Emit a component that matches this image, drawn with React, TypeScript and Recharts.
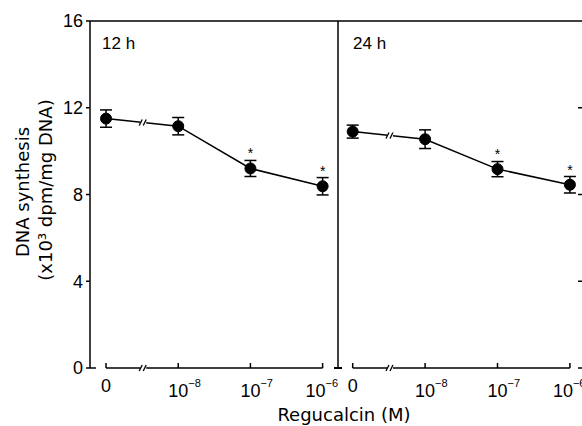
import { LineChart, Line, XAxis, YAxis, ErrorBar, LabelList, ReferenceLine, ReferenceDot } from "recharts";

// regucalcin concentrations (10^exp M), plotted at equal spacing
const doseIndex = [0, 1, 2, 3];
const doseExp = ["", "8", "7", "6"];

// DNA synthesis (x10^3 dpm/mg DNA)
const mean12h = [11.5, 11.15, 9.2, 8.38];
const err12h = [0.4, 0.4, 0.37, 0.4];
const sig12h = [false, false, true, true];

const mean24h = [10.9, 10.55, 9.17, 8.45];
const err24h = [0.3, 0.43, 0.35, 0.38];
const sig24h = [false, false, true, true];

const yTicks = [0, 4, 8, 12, 16];
const edgeTicks = [0, 4, 8, 12];

const leftDomain: [number, number] = [-0.222, 3.213];
const rightDomain: [number, number] = [-0.203, 3.167];
const breakAt = 0.515;

const W = 582;
const H = 426;
const numFont = "'Liberation Sans', Arial, sans-serif";
const textFont = "'DejaVu Sans', sans-serif";

const build = (mean: number[], err: number[], sig: boolean[]) =>
  doseIndex.map((x, i) => ({ x, mean: mean[i], err: err[i], star: sig[i] ? "*" : "" }));

const data12 = build(mean12h, err12h, sig12h);
const data24 = build(mean24h, err24h, sig24h);

function DoseTick({ x, y, payload }: any) {
  const exp = doseExp[payload.value];
  // the last label sits left of its tick so it clears the next panel
  const shift = payload.value === doseIndex[doseIndex.length - 1] ? -7 : 0;
  return (
    <g>
      <line x1={x} x2={x} y1={y - 5} y2={y} stroke="#000" strokeWidth={1.5} />
      {exp ? (
        <g fontFamily={numFont} fill="#000">
          <text x={x + shift} y={y + 29} textAnchor="middle" fontSize={18}>10</text>
          <text x={x + shift + 10} y={y + 19} textAnchor="start" fontSize={11}>{"\u2212" + exp}</text>
        </g>
      ) : (
        <text x={x} y={y + 24} textAnchor="middle" fontSize={18} fontFamily={numFont} fill="#000">0</text>
      )}
    </g>
  );
}

function BreakMark({ cx, cy }: any) {
  return (
    <g>
      <line x1={cx - 3} x2={cx + 3} y1={cy} y2={cy} stroke="#fff" strokeWidth={4} />
      <line x1={cx - 4} y1={cy + 3} x2={cx - 1} y2={cy - 3} stroke="#000" strokeWidth={1.3} />
      <line x1={cx} y1={cy + 3} x2={cx + 3} y2={cy - 3} stroke="#000" strokeWidth={1.3} />
    </g>
  );
}

function BaseMark({ cx, cy }: any) {
  return <line x1={cx - 4} x2={cx + 4} y1={cy} y2={cy} stroke="#000" strokeWidth={2} />;
}

function EdgeTick({ cx, cy }: any) {
  return <line x1={cx - 4} x2={cx} y1={cy} y2={cy} stroke="#000" strokeWidth={1.5} />;
}

const lineBreakY = (mean: number[]) => mean[0] + (mean[1] - mean[0]) * breakAt;

function Panel({ data, mean, domain, margin, label, showY }: any) {
  return (
    <div style={{ position: "absolute", left: 0, top: 0 }}>
      <LineChart width={W} height={H} data={data} margin={margin}>
        <XAxis
          type="number"
          dataKey="x"
          domain={domain}
          ticks={doseIndex}
          axisLine={false}
          tickLine={false}
          tickSize={0}
          tickMargin={0}
          height={30}
          tick={<DoseTick />}
          allowDataOverflow
        />
        <YAxis
          domain={[0, 16]}
          ticks={yTicks}
          width={30}
          axisLine={{ stroke: "#000", strokeWidth: 1.5 }}
          tickLine={showY ? { stroke: "#000", strokeWidth: 1.5 } : false}
          tickSize={4}
          tickMargin={3}
          tick={showY ? { fontSize: 18, fill: "#000", fontFamily: numFont } : false}
          label={
            showY
              ? {
                  content: () => (
                    <g fontFamily={textFont} fontSize={18} fill="#000">
                      <text transform="translate(29,192) rotate(-90)" textAnchor="middle">DNA synthesis</text>
                      <text transform="translate(52,190) rotate(-90)" textAnchor="middle">(x10³ dpm/mg DNA)</text>
                    </g>
                  ),
                }
              : undefined
          }
        />
        <ReferenceLine y={16} stroke="#000" strokeWidth={1.5} />
        <ReferenceLine
          segment={[{ x: 0, y: 0 }, { x: 3, y: 0 }]}
          stroke="#000"
          strokeWidth={1.5}
          ifOverflow="visible"
        />
        {showY && (
          <ReferenceLine
            segment={[{ x: domain[0], y: 0 }, { x: -0.14, y: 0 }]}
            stroke="#000"
            strokeWidth={1.5}
            ifOverflow="visible"
          />
        )}
        {!showY && <ReferenceDot x={domain[0]} y={0} ifOverflow="visible" shape={<BaseMark />} />}
        {!showY &&
          edgeTicks.map((t) => (
            <ReferenceDot key={t} x={domain[1]} y={t} ifOverflow="visible" shape={<EdgeTick />} />
          ))}
        <Line
          dataKey="mean"
          stroke="#000"
          strokeWidth={1.5}
          dot={{ r: 5.5, fill: "#000", stroke: "#000", strokeWidth: 1 }}
          isAnimationActive={false}
        >
          <ErrorBar dataKey="err" width={6} stroke="#000" strokeWidth={1.5} direction="y" />
          <LabelList dataKey="star" position="top" offset={10} fontSize={14} fill="#000" fontFamily={numFont} />
        </Line>
        <ReferenceDot x={breakAt} y={lineBreakY(mean)} ifOverflow="visible" shape={<BreakMark />} />
        <ReferenceDot x={breakAt} y={0} ifOverflow="visible" shape={<BreakMark />} />
        <text x={showY ? 102 : 353} y={49} fontSize={17} fontFamily={numFont} fill="#000">
          {label}
        </text>
        {!showY && (
          <text x={344} y={421} textAnchor="middle" fontSize={18} fontFamily={textFont} fill="#000">
            Regucalcin (M)
          </text>
        )}
      </LineChart>
    </div>
  );
}

export default function App() {
  return (
    <div style={{ position: "absolute", left: 0, top: 0, width: W, height: H, background: "#fff" }}>
      <Panel
        data={data12}
        mean={mean12h}
        domain={leftDomain}
        margin={{ top: 21, right: 244, bottom: 28, left: 60 }}
        label="12 h"
        showY
      />
      <Panel
        data={data24}
        mean={mean24h}
        domain={rightDomain}
        margin={{ top: 21, right: 0, bottom: 28, left: 308 }}
        label="24 h"
        showY={false}
      />
    </div>
  );
}
